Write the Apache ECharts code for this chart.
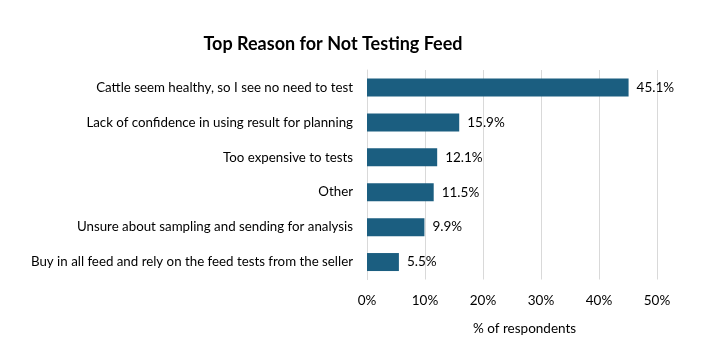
<!DOCTYPE html>
<html><head><meta charset="utf-8">
<script src="https://cdn.jsdelivr.net/npm/echarts@6/dist/echarts.min.js"></script>
<style>html,body{margin:0;padding:0;background:#fff}#c{width:708px;height:345px}</style>
</head><body><div id="c"></div>
<script>
const categories = [
  "Cattle seem healthy, so I see no need to test",
  "Lack of confidence in using result for planning",
  "Too expensive to tests",
  "Other",
  "Unsure about sampling and sending for analysis",
  "Buy in all feed and rely on the feed tests from the seller"
];
const values = [45.1, 15.9, 12.1, 11.5, 9.9, 5.5];
const tickLabels = ["0%", "10%", "20%", "30%", "40%", "50%"];
const titleText = "Top Reason for Not Testing Feed";
const axisTitle = "% of respondents";

const font = "Lato, 'Noto Sans', sans-serif";
const chart = echarts.init(document.getElementById('c'), null, {renderer: 'canvas'});
chart.setOption({
  animation: false,
  backgroundColor: '#fff',
  title: {
    text: titleText, left: 328, top: 30, textAlign: 'center',
    textStyle: {fontFamily: font, fontSize: 18, fontWeight: 'bold', color: '#000'}
  },
  graphic: [{
    type: 'text', left: 473, top: 322,
    style: {text: axisTitle, x: 0, fontFamily: font, fontSize: 13.5, fill: '#000', textAlign: 'center'}
  }],
  grid: {left: 367, right: 51, top: 70, bottom: 65.5, containLabel: false},
  xAxis: {
    type: 'value', min: 0, max: 50, interval: 10,
    axisLine: {show: false}, axisTick: {show: false},
    splitLine: {lineStyle: {color: '#d9d9d9', width: 1}},
    axisLabel: {
      margin: 14, fontFamily: font, fontSize: 13.5, color: '#000',
      formatter: (v) => tickLabels[Math.round(v / 10)]
    }
  },
  yAxis: {
    type: 'category', data: categories, inverse: true,
    axisLine: {show: true, lineStyle: {color: '#d9d9d9'}}, axisTick: {show: false},
    axisLabel: {margin: 14, fontFamily: font, fontSize: 13.3, color: '#000'}
  },
  series: [{
    type: 'bar', data: values, barWidth: 18,
    itemStyle: {color: '#1b5e80'},
    label: {
      show: true, position: 'right', distance: 8,
      fontFamily: font, fontSize: 13.5, color: '#000',
      formatter: (p) => p.value.toFixed(1) + '%'
    }
  }]
});
</script></body></html>
